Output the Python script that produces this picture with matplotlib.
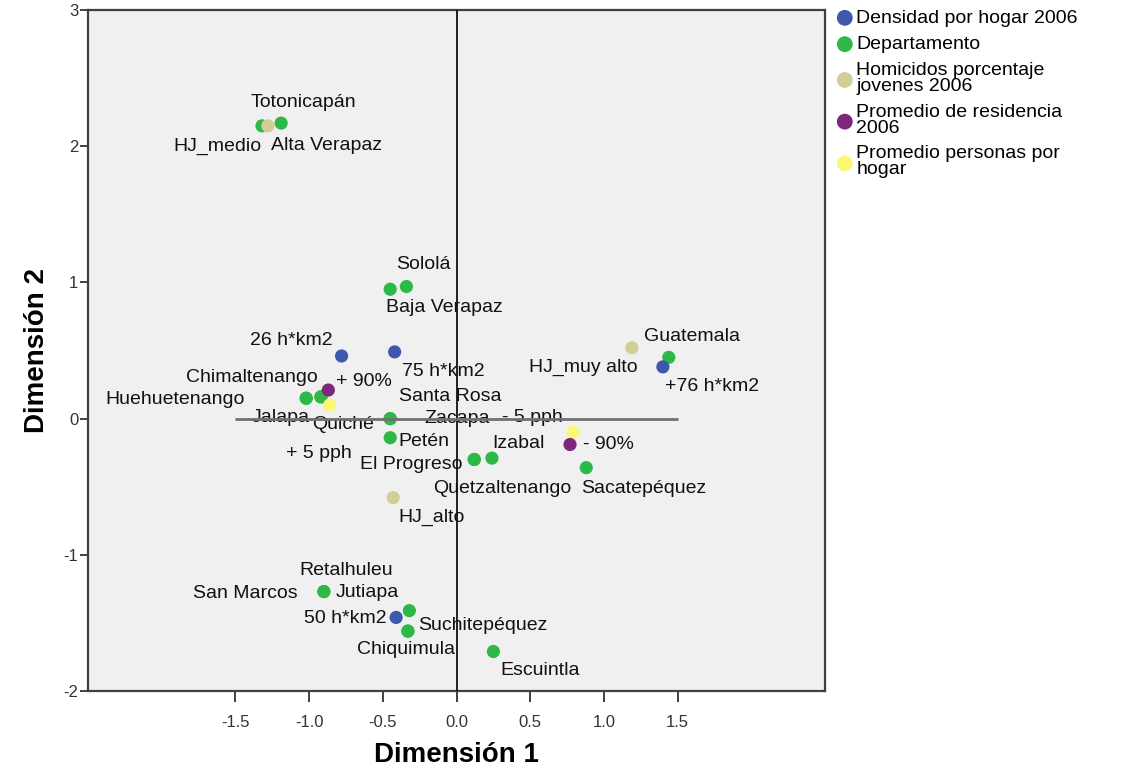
import matplotlib
matplotlib.use("Agg")
import matplotlib.pyplot as plt

plt.rcParams['font.family'] = ['Liberation Sans', 'DejaVu Sans']

# ---------------- data ----------------
dept_names = ["Totonicapán", "Alta Verapaz", "Sololá", "Baja Verapaz", "Chimaltenango",
              "Huehuetenango", "Jalapa", "Quiché", "Santa Rosa", "Zacapa", "Petén",
              "El Progreso", "Quetzaltenango", "Izabal", "Sacatepéquez", "Guatemala",
              "Retalhuleu", "San Marcos", "Jutiapa", "Suchitepéquez", "Chiquimula", "Escuintla"]
dept_x = [-1.32, -1.19, -0.34, -0.45, -0.92, -1.02, -1.02, -0.92, -0.45, -0.45, -0.45,
          0.12, 0.12, 0.24, 0.88, 1.44, -0.90, -0.90, -0.32, -0.33, -0.33, 0.25]
dept_y = [2.15, 2.17, 0.97, 0.95, 0.16, 0.15, 0.15, 0.16, 0.00, 0.00, -0.14,
          -0.30, -0.30, -0.29, -0.36, 0.45, -1.27, -1.27, -1.41, -1.56, -1.56, -1.71]

dens_names = ["26 h*km2", "75 h*km2", "+76 h*km2", "50 h*km2"]
dens_x = [-0.78, -0.42, 1.40, -0.41]
dens_y = [0.46, 0.49, 0.38, -1.46]

hom_names = ["HJ_medio", "HJ_muy alto", "HJ_alto"]
hom_x = [-1.28, 1.19, -0.43]
hom_y = [2.15, 0.52, -0.58]

res_names = ["+ 90%", "- 90%"]
res_x = [-0.87, 0.77]
res_y = [0.21, -0.19]

pph_names = ["+ 5 pph", "- 5 pph"]
pph_x = [-0.86, 0.79]
pph_y = [0.10, -0.10]

series_labels = ["Densidad por hogar 2006", "Departamento",
                 "Homicidos porcentaje\njovenes 2006",
                 "Promedio de residencia\n2006", "Promedio personas por\nhogar"]

x_ticks = [-1.5, -1.0, -0.5, 0.0, 0.5, 1.0, 1.5]
y_ticks = [-2, -1, 0, 1, 2, 3]

# label offsets (pixels, relative to point)
label_offsets = {
    "Totonicapán": (41, 23), "Alta Verapaz": (45, -22), "Sololá": (17, 22),
    "Baja Verapaz": (54, -18), "Chimaltenango": (-69, 19), "Huehuetenango": (-131, -1),
    "Jalapa": (-26, -19), "Quiché": (22, -28), "Santa Rosa": (60, 22), "Zacapa": (67, 0),
    "Petén": (34, -4), "El Progreso": (-63, -5), "Quetzaltenango": (28, -29),
    "Izabal": (27, 15), "Sacatepéquez": (58, -21), "Guatemala": (23, 21),
    "Retalhuleu": (22, 21), "San Marcos": (-79, -2), "Jutiapa": (-42, 18),
    "Suchitepéquez": (75, 6), "Chiquimula": (-2, -18), "Escuintla": (47, -19),
    "26 h*km2": (-50, 15), "75 h*km2": (49, -20), "+76 h*km2": (49, -20),
    "50 h*km2": (-51, -1), "HJ_medio": (-50, -21), "HJ_muy alto": (-49, -20),
    "HJ_alto": (38, -20), "+ 90%": (36, 9), "- 90%": (38, 0),
    "+ 5 pph": (-11, -48), "- 5 pph": (-41, 15),
}

colors = ["#3E58AC", "#2EB848", "#D3CE97", "#7C277C", "#FBF873"]

# ---------------- figure ----------------
fig = plt.figure(figsize=(11.26, 7.75), dpi=100)
ax = fig.add_axes([0.0782, 0.1084, 0.6545, 0.8786])
ax.set_facecolor("#F0F0F0")

groups = [(dens_names, dens_x, dens_y), (dept_names, dept_x, dept_y),
          (hom_names, hom_x, hom_y), (res_names, res_x, res_y),
          (pph_names, pph_x, pph_y)]

handles = []
draw_order = [1, 0, 2, 4, 3]
for gi in draw_order:
    names, xs, ys = groups[gi]
    h = ax.scatter(xs, ys, s=90, color=colors[gi], edgecolors='none', zorder=2,
                   label=series_labels[gi])
    handles.append((gi, h))
    for n, x, y in zip(names, xs, ys):
        dx, dy = label_offsets[n]
        ax.annotate(n, (x, y), xytext=(dx, dy), textcoords='offset pixels',
                    ha='center', va='center', fontsize=14, color='#111111', zorder=3)

handles.sort(key=lambda t: t[0])

ax.axvline(0, color='#111111', lw=1.3, zorder=4)
ax.hlines(0, -1.5, 1.5, color='#707070', lw=2, zorder=4)

ax.set_xlim(-2.5, 2.5)
ax.set_ylim(-2, 3)
ax.set_xticks(x_ticks)
ax.set_xticklabels([f"{v:.1f}" for v in x_ticks])
ax.set_yticks(y_ticks)
ax.set_yticklabels([str(v) for v in y_ticks])
ax.tick_params(axis='x', direction='out', length=8, width=1.3, colors='#333333',
               labelsize=12, pad=9)
ax.tick_params(axis='y', direction='out', length=6, width=1.3, colors='#333333',
               labelsize=12, pad=1)
for sp in ax.spines.values():
    sp.set_color('#404040')
    sp.set_linewidth(1.6)

ax.set_xlabel("Dimensión 1", fontsize=20, fontweight='bold', labelpad=9)
ax.set_ylabel("Dimensión 2", fontsize=20, fontweight='bold', labelpad=10)

leg = fig.legend([h for _, h in handles], [series_labels[g] for g, _ in handles],
                 loc='upper left', bbox_to_anchor=(0.733, 0.998), frameon=False,
                 fontsize=14, handletextpad=0.0, labelspacing=0.45, borderaxespad=0,
                 markerscale=1.2, handlelength=1.2)
for t in leg.get_texts():
    t.set_linespacing(0.92)

fig.savefig("out.png", dpi=100)
